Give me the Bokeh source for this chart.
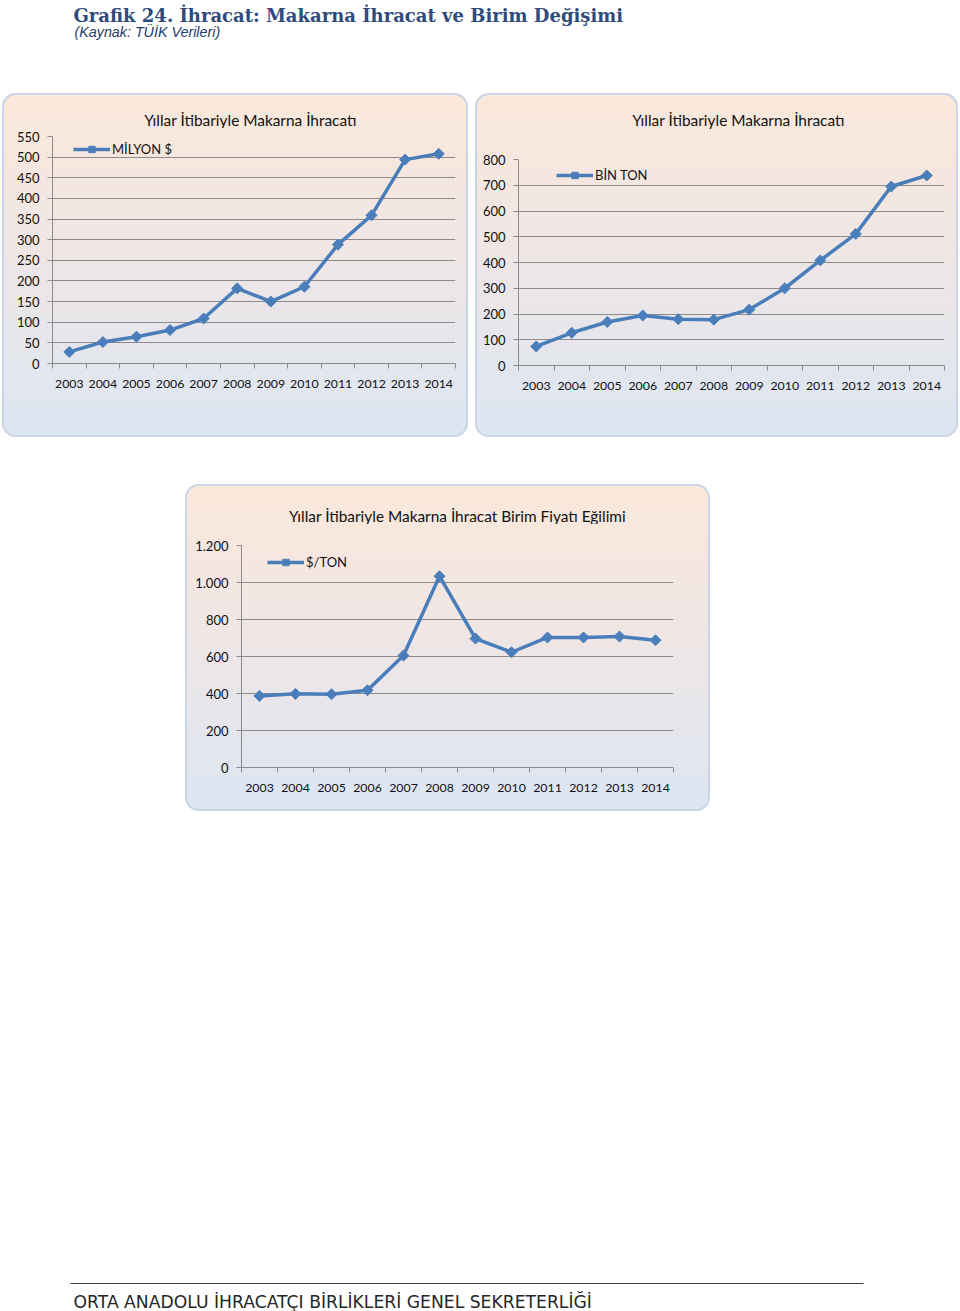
import math
from bokeh.plotting import figure
from bokeh.layouts import column, row
from bokeh.models import Spacer, FixedTicker, Legend, LegendItem, Range1d, Label, ColumnDataSource
from bokeh.embed import file_html
from bokeh.resources import INLINE

# ---------------- data ----------------
years = [2003, 2004, 2005, 2006, 2007, 2008, 2009, 2010, 2011, 2012, 2013, 2014]
milyon_usd = [28, 52, 65, 81, 109, 182, 150, 186, 288, 359, 494, 508]
bin_ton = [74, 127, 169, 194, 180, 178, 217, 300, 408, 511, 695, 738]
usd_per_ton = [387, 398, 396, 418, 605, 1034, 697, 623, 703, 703, 708, 688]

ticks_musd = [0, 50, 100, 150, 200, 250, 300, 350, 400, 450, 500, 550]
ticks_ton = [0, 100, 200, 300, 400, 500, 600, 700, 800]
ticks_price = [0, 200, 400, 600, 800, 1000, 1200]
price_tick_labels = {1000: "1.000", 1200: "1.200"}

main_title = "Grafik 24. İhracat: Makarna İhracat ve Birim Değişimi"
sub_title = "(Kaynak: TÜİK Verileri)"
title_1 = "Yıllar  İtibariyle Makarna İhracatı"
title_2 = "Yıllar  İtibariyle Makarna İhracatı"
title_3 = "Yıllar  İtibariyle Makarna İhracat Birim Fiyatı Eğilimi"
label_1 = "MİLYON $"
label_2 = "BİN TON"
label_3 = "$/TON"
footer_text = "ORTA ANADOLU İHRACATÇI BİRLİKLERİ GENEL SEKRETERLİĞİ"

# ---------------- style ----------------
BLUE = "#4A7EBB"
GRID = "#8C8C8C"
FONT = "Lato"
NAN = float("nan")
PANEL_STYLE = {
    "background": "linear-gradient(180deg, #FBE8DA 0%, #EEE6E6 50%, #DCE6F3 100%)",
    "border-radius": "14px",
    "box-shadow": "inset 0 0 0 2px #CAD6E7",
}


def canvas(w, h):
    f = figure(width=w, height=h, output_backend="svg", toolbar_location=None,
               title=None, x_range=Range1d(0, w), y_range=Range1d(h, 0), min_border=0,
               x_axis_location=None, y_axis_location=None, frame_align=False)
    f.grid.visible = False
    f.outline_line_alpha = 0
    f.background_fill_alpha = 0
    f.border_fill_alpha = 0
    return f


def make_chart(values, label, yticks, ymax, width, height, title_h, title_x, title_y,
               bl, br, bt, bb, title, legend_xy, overrides=None):
    # title strip (part of the same rounded panel)
    t = canvas(width, title_h)
    t.add_layout(Label(x=title_x, y=title_y, text=title, text_align="center",
                       text_baseline="middle", text_font=FONT, text_font_size="15.4px",
                       text_color="#111111"))

    p = figure(width=width, height=height - title_h, output_backend="svg",
               toolbar_location=None, title=None,
               x_range=Range1d(2002.5, 2014.5), y_range=Range1d(0, ymax),
               min_border_left=bl, min_border_right=br, min_border_top=bt,
               min_border_bottom=bb, frame_align=False)
    p.background_fill_alpha = 0
    p.border_fill_alpha = 0
    p.outline_line_alpha = 0
    p.xgrid.visible = False

    xt = FixedTicker(ticks=years, minor_ticks=[y - 0.5 for y in years] + [years[-1] + 0.5])
    yt = FixedTicker(ticks=yticks)
    xa = p.xaxis[0]
    xa.ticker = xt
    xa.axis_line_color = GRID
    xa.major_tick_out = 0
    xa.major_tick_in = 0
    xa.minor_tick_out = 5
    xa.minor_tick_in = 0
    xa.minor_tick_line_color = GRID
    xa.major_label_standoff = 11
    xa.major_label_text_font = FONT
    xa.major_label_text_font_size = "12.3px"
    xa.major_label_text_color = "#111111"

    ya = p.yaxis[0]
    ya.ticker = yt
    ya.axis_line_color = GRID
    ya.major_tick_out = 5
    ya.major_tick_in = 0
    ya.major_tick_line_color = GRID
    ya.minor_tick_out = 0
    ya.minor_tick_in = 0
    ya.major_label_standoff = 8
    ya.major_label_text_font = FONT
    ya.major_label_text_font_size = "13px"
    ya.major_label_text_color = "#111111"
    if overrides:
        ya.major_label_overrides = overrides

    p.ygrid.ticker = yt
    p.ygrid.grid_line_color = GRID
    p.ygrid.grid_line_width = 1

    src = ColumnDataSource(dict(year=years, v=values))
    p.line("year", "v", source=src, line_color=BLUE, line_width=3.5)
    p.scatter("year", "v", source=src, marker="square", angle=math.pi / 4, size=7.8,
              fill_color=BLUE, line_color=BLUE)

    # legend-only renderers (no visible data)
    leg_line = p.line(x=[NAN], y=[NAN], line_color=BLUE, line_width=3.5)
    leg_pt = p.scatter(x=[NAN], y=[NAN], marker="square", angle=math.pi / 4, size=4.5,
                       fill_color=BLUE, line_color=BLUE)
    legend = Legend(items=[LegendItem(label=label, renderers=[leg_line, leg_pt])],
                    location=legend_xy, glyph_width=37, glyph_height=16, label_height=16,
                    label_standoff=2, padding=0, margin=0, spacing=0,
                    border_line_alpha=0, background_fill_alpha=0,
                    label_text_font=FONT, label_text_font_size="13px",
                    label_text_color="#111111")
    p.add_layout(legend)

    return column(t, p, styles=PANEL_STYLE)


c1 = make_chart(milyon_usd, label_1, ticks_musd, 550, 466, 344, 35, 250, 26,
                50, 13, 8, 74, title_1, (21, 206))
c2 = make_chart(bin_ton, label_2, ticks_ton, 800, 483, 344, 40, 265, 26,
                43, 14, 26, 72, title_2, (38, 182))
c3 = make_chart(usd_per_ton, label_3, ticks_price, 1200, 525, 327, 40, 274, 31,
                56, 37, 21, 44, title_3, (26, 197), overrides=price_tick_labels)

header = canvas(960, 93)
header.add_layout(Label(x=73, y=15.2, text=main_title, text_font="DejaVu Serif",
                        text_font_style="bold", text_font_size="18px",
                        text_color="#2F4B7C", text_baseline="middle"))
header.add_layout(Label(x=74, y=31.5, text=sub_title, text_font="Liberation Sans",
                        text_font_style="italic", text_font_size="14.3px",
                        text_color="#23406E", text_baseline="middle"))

footer = canvas(960, 38)
footer.segment(x0=[70], y0=[10], x1=[863], y1=[10], line_color="#404040", line_width=1)
footer.add_layout(Label(x=73, y=28, text=footer_text, text_font="DejaVu Sans",
                        text_font_size="17.2px", text_color="#262626",
                        text_baseline="middle"))

layout = column(
    header,
    row(Spacer(width=2, height=344), c1, Spacer(width=7, height=344), c2),
    Spacer(width=960, height=47),
    row(Spacer(width=185, height=327), c3),
    Spacer(width=960, height=462),
    footer,
)

open("out.html", "w").write(file_html(layout, INLINE, title="Grafik 24"))
